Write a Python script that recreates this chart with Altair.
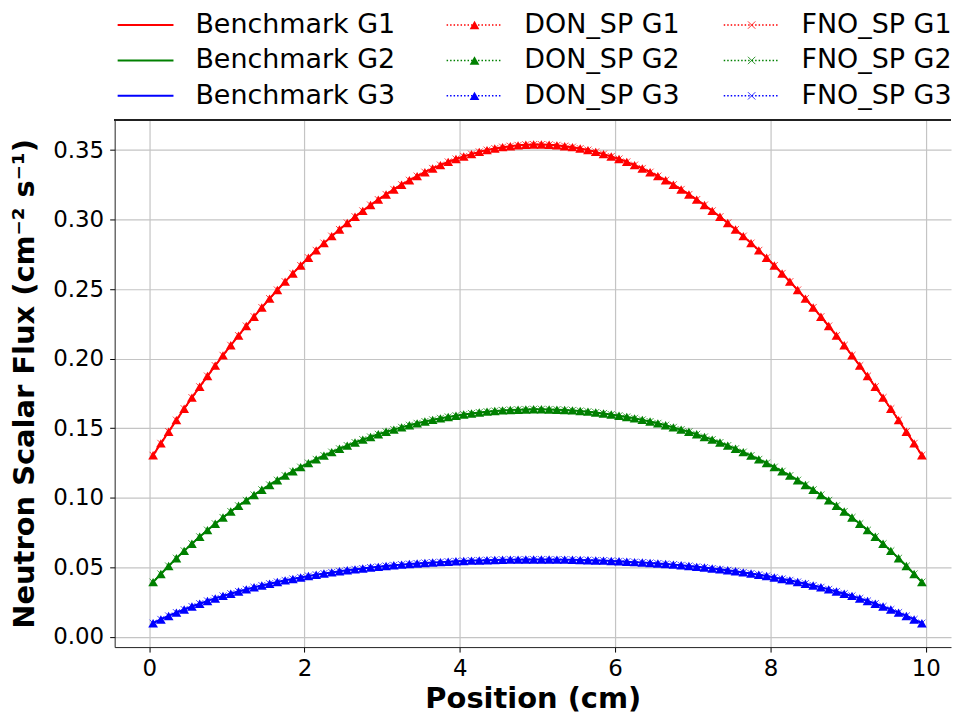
import altair as alt
import pandas as pd

# ---------------- data ----------------
X_POS = [0.05, 0.15, 0.25, 0.35, 0.45, 0.55, 0.65, 0.75, 0.85, 0.95,
         1.05, 1.15, 1.25, 1.35, 1.45, 1.55, 1.65, 1.75, 1.85, 1.95,
         2.05, 2.15, 2.25, 2.35, 2.45, 2.55, 2.65, 2.75, 2.85, 2.95,
         3.05, 3.15, 3.25, 3.35, 3.45, 3.55, 3.65, 3.75, 3.85, 3.95,
         4.05, 4.15, 4.25, 4.35, 4.45, 4.55, 4.65, 4.75, 4.85, 4.95,
         5.05, 5.15, 5.25, 5.35, 5.45, 5.55, 5.65, 5.75, 5.85, 5.95,
         6.05, 6.15, 6.25, 6.35, 6.45, 6.55, 6.65, 6.75, 6.85, 6.95,
         7.05, 7.15, 7.25, 7.35, 7.45, 7.55, 7.65, 7.75, 7.85, 7.95,
         8.05, 8.15, 8.25, 8.35, 8.45, 8.55, 8.65, 8.75, 8.85, 8.95,
         9.05, 9.15, 9.25, 9.35, 9.45, 9.55, 9.65, 9.75, 9.85, 9.95]

G1 = [0.1305, 0.1391, 0.1475, 0.1558, 0.1640, 0.1720, 0.1798, 0.1875, 0.1950, 0.2024,
      0.2096, 0.2166, 0.2235, 0.2302, 0.2368, 0.2432, 0.2494, 0.2554, 0.2613, 0.2670,
      0.2726, 0.2779, 0.2831, 0.2881, 0.2929, 0.2976, 0.3021, 0.3063, 0.3105, 0.3144,
      0.3181, 0.3217, 0.3251, 0.3283, 0.3313, 0.3341, 0.3368, 0.3392, 0.3415, 0.3436,
      0.3454, 0.3471, 0.3487, 0.3500, 0.3511, 0.3521, 0.3528, 0.3534, 0.3538, 0.3540,
      0.3540, 0.3538, 0.3534, 0.3528, 0.3521, 0.3511, 0.3500, 0.3487, 0.3471, 0.3454,
      0.3436, 0.3415, 0.3392, 0.3368, 0.3341, 0.3313, 0.3283, 0.3251, 0.3217, 0.3181,
      0.3144, 0.3105, 0.3063, 0.3021, 0.2976, 0.2929, 0.2881, 0.2831, 0.2779, 0.2726,
      0.2670, 0.2613, 0.2554, 0.2494, 0.2432, 0.2368, 0.2302, 0.2235, 0.2166, 0.2096,
      0.2024, 0.1950, 0.1875, 0.1798, 0.1720, 0.1640, 0.1558, 0.1475, 0.1391, 0.1305]

G2 = [0.0393, 0.0452, 0.0509, 0.0565, 0.0618, 0.0669, 0.0719, 0.0767, 0.0813, 0.0858,
      0.0901, 0.0942, 0.0981, 0.1020, 0.1057, 0.1092, 0.1126, 0.1159, 0.1190, 0.1220,
      0.1249, 0.1276, 0.1303, 0.1328, 0.1352, 0.1375, 0.1397, 0.1418, 0.1437, 0.1456,
      0.1474, 0.1490, 0.1506, 0.1521, 0.1535, 0.1548, 0.1560, 0.1571, 0.1581, 0.1590,
      0.1598, 0.1606, 0.1613, 0.1619, 0.1624, 0.1628, 0.1631, 0.1633, 0.1635, 0.1636,
      0.1636, 0.1635, 0.1633, 0.1631, 0.1628, 0.1624, 0.1619, 0.1613, 0.1606, 0.1598,
      0.1590, 0.1581, 0.1571, 0.1560, 0.1548, 0.1535, 0.1521, 0.1506, 0.1490, 0.1474,
      0.1456, 0.1437, 0.1418, 0.1397, 0.1375, 0.1352, 0.1328, 0.1303, 0.1276, 0.1249,
      0.1220, 0.1190, 0.1159, 0.1126, 0.1092, 0.1057, 0.1020, 0.0981, 0.0942, 0.0901,
      0.0858, 0.0813, 0.0767, 0.0719, 0.0669, 0.0618, 0.0565, 0.0509, 0.0452, 0.0393]

G3 = [0.0098, 0.0125, 0.0150, 0.0174, 0.0196, 0.0218, 0.0238, 0.0258, 0.0276, 0.0294,
      0.0310, 0.0326, 0.0341, 0.0356, 0.0369, 0.0382, 0.0394, 0.0406, 0.0416, 0.0427,
      0.0437, 0.0446, 0.0455, 0.0463, 0.0471, 0.0478, 0.0485, 0.0491, 0.0498, 0.0503,
      0.0509, 0.0514, 0.0519, 0.0523, 0.0527, 0.0531, 0.0534, 0.0537, 0.0540, 0.0543,
      0.0545, 0.0548, 0.0549, 0.0551, 0.0552, 0.0554, 0.0555, 0.0555, 0.0556, 0.0556,
      0.0556, 0.0556, 0.0555, 0.0555, 0.0554, 0.0552, 0.0551, 0.0549, 0.0548, 0.0545,
      0.0543, 0.0540, 0.0537, 0.0534, 0.0531, 0.0527, 0.0523, 0.0519, 0.0514, 0.0509,
      0.0503, 0.0498, 0.0491, 0.0485, 0.0478, 0.0471, 0.0463, 0.0455, 0.0446, 0.0437,
      0.0427, 0.0416, 0.0406, 0.0394, 0.0382, 0.0369, 0.0356, 0.0341, 0.0326, 0.0310,
      0.0294, 0.0276, 0.0258, 0.0238, 0.0218, 0.0196, 0.0174, 0.0150, 0.0125, 0.0098]

GROUPS = ["G1", "G2", "G3"]
MODELS = ["Benchmark", "DON_SP", "FNO_SP"]
X_TICKS = [0, 2, 4, 6, 8, 10]
Y_TICKS = [0.0, 0.05, 0.10, 0.15, 0.20, 0.25, 0.30, 0.35]

# ---------------- styles / layout ----------------
COLORS = ["#ff0000", "#008000", "#0000ff"]
X_SHAPE = "M-1,-1L1,1M-1,1L1,-1"
FONT = "DejaVu Sans"
PLOT_W, PLOT_H = 839, 529
X_DOMAIN = [-0.445, 10.325]
Y_DOMAIN = [-0.0074, 0.3718]
LEG_H = 104
LEG_COL_X = [3, 333, 611]      # sample start of each legend column (px from plot left)
LEG_SAMPLE = 56
LEG_GAP = 22
LEG_ROWS_PX = [16, 87]

rows = []
for g, vals in zip(GROUPS, [G1, G2, G3]):
    for m in MODELS:
        for x, v in zip(X_POS, vals):
            rows.append({"x": x, "flux": v, "group": g, "model": m})
df = pd.DataFrame(rows)

color = alt.Color("group:N", scale=alt.Scale(domain=GROUPS, range=COLORS), legend=None)
xenc = alt.X("x:Q",
             scale=alt.Scale(domain=X_DOMAIN, nice=False, zero=False),
             axis=alt.Axis(values=X_TICKS, format="d", title="Position (cm)",
                           labelPadding=5, titlePadding=5))
yenc = alt.Y("flux:Q",
             scale=alt.Scale(domain=Y_DOMAIN, nice=False, zero=False),
             axis=alt.Axis(values=Y_TICKS, format=".2f",
                           title="Neutron Scalar Flux (cm⁻² s⁻¹)",
                           labelPadding=6, titlePadding=13))

base = alt.Chart(df).encode(x=xenc, y=yenc, color=color, detail="group:N")
bench = base.transform_filter(alt.datum.model == "Benchmark").mark_line(strokeWidth=2)
don_line = base.transform_filter(alt.datum.model == "DON_SP").mark_line(
    strokeWidth=1.5, strokeDash=[1.5, 2])
don_pts = base.transform_filter(alt.datum.model == "DON_SP").mark_point(
    shape="triangle-up", filled=True, size=95, opacity=1)
fno_line = base.transform_filter(alt.datum.model == "FNO_SP").mark_line(
    strokeWidth=1.5, strokeDash=[1.5, 2])
fno_pts = base.transform_filter(alt.datum.model == "FNO_SP").mark_point(
    shape=X_SHAPE, filled=False, size=50, strokeWidth=1, opacity=0.7)
top_frame = alt.Chart(df).mark_rule(color="#222222", strokeWidth=1).encode(
    x=alt.value(0), x2=alt.value(PLOT_W), y=alt.value(0))

main = alt.layer(bench, don_line, don_pts, fno_line, fno_pts, top_frame).properties(
    width=PLOT_W, height=PLOT_H)

# ---------------- legend panel ----------------
leg_rows = []
for ci, m in enumerate(MODELS):
    for ri, g in enumerate(GROUPS):
        x0 = LEG_COL_X[ci]
        leg_rows.append({"label": f"{m} {g}", "model": m, "group": g, "row": ri,
                         "x0": x0, "x1": x0 + LEG_SAMPLE, "xm": x0 + LEG_SAMPLE / 2,
                         "xt": x0 + LEG_SAMPLE + LEG_GAP})
ldf = pd.DataFrame(leg_rows)
lx = alt.Scale(domain=[0, PLOT_W], nice=False, zero=False)
ly = alt.Scale(domain=[0, 2], range=LEG_ROWS_PX, nice=False, zero=False)
lbase = alt.Chart(ldf)
l_solid = lbase.transform_filter(alt.datum.model == "Benchmark").mark_rule(strokeWidth=2).encode(
    x=alt.X("x0:Q", scale=lx, axis=None), x2="x1:Q",
    y=alt.Y("row:Q", scale=ly, axis=None), color=color)
l_dot = lbase.transform_filter(alt.datum.model != "Benchmark").mark_rule(
    strokeWidth=1.5, strokeDash=[1.5, 2]).encode(
    x=alt.X("x0:Q", scale=lx, axis=None), x2="x1:Q",
    y=alt.Y("row:Q", scale=ly, axis=None), color=color)
l_tri = lbase.transform_filter(alt.datum.model == "DON_SP").mark_point(
    shape="triangle-up", filled=True, size=95, opacity=1).encode(
    x=alt.X("xm:Q", scale=lx, axis=None), y=alt.Y("row:Q", scale=ly, axis=None), color=color)
l_x = lbase.transform_filter(alt.datum.model == "FNO_SP").mark_point(
    shape=X_SHAPE, filled=False, size=55, strokeWidth=1, opacity=0.8).encode(
    x=alt.X("xm:Q", scale=lx, axis=None), y=alt.Y("row:Q", scale=ly, axis=None), color=color)
l_txt = lbase.mark_text(align="left", baseline="middle", fontSize=27, font=FONT,
                        color="black").encode(
    x=alt.X("xt:Q", scale=lx, axis=None), y=alt.Y("row:Q", scale=ly, axis=None),
    text="label:N")
legend = alt.layer(l_solid, l_dot, l_tri, l_x, l_txt).properties(
    width=PLOT_W, height=LEG_H)

chart = alt.vconcat(legend, main, spacing=6).properties(
    padding={"left": 2, "top": 0, "right": 0, "bottom": 0}
).configure_view(
    strokeOpacity=0
).configure_axis(
    labelFont=FONT, labelFontSize=23, labelColor="black",
    titleFont=FONT, titleFontSize=29, titleFontWeight="bold", titleColor="black",
    tickColor="black", tickSize=5, domainColor="#222222",
    gridColor="#c4c4c4", gridWidth=1.2
)

chart.save("out.html", embed_options={"renderer": "svg", "actions": False})
